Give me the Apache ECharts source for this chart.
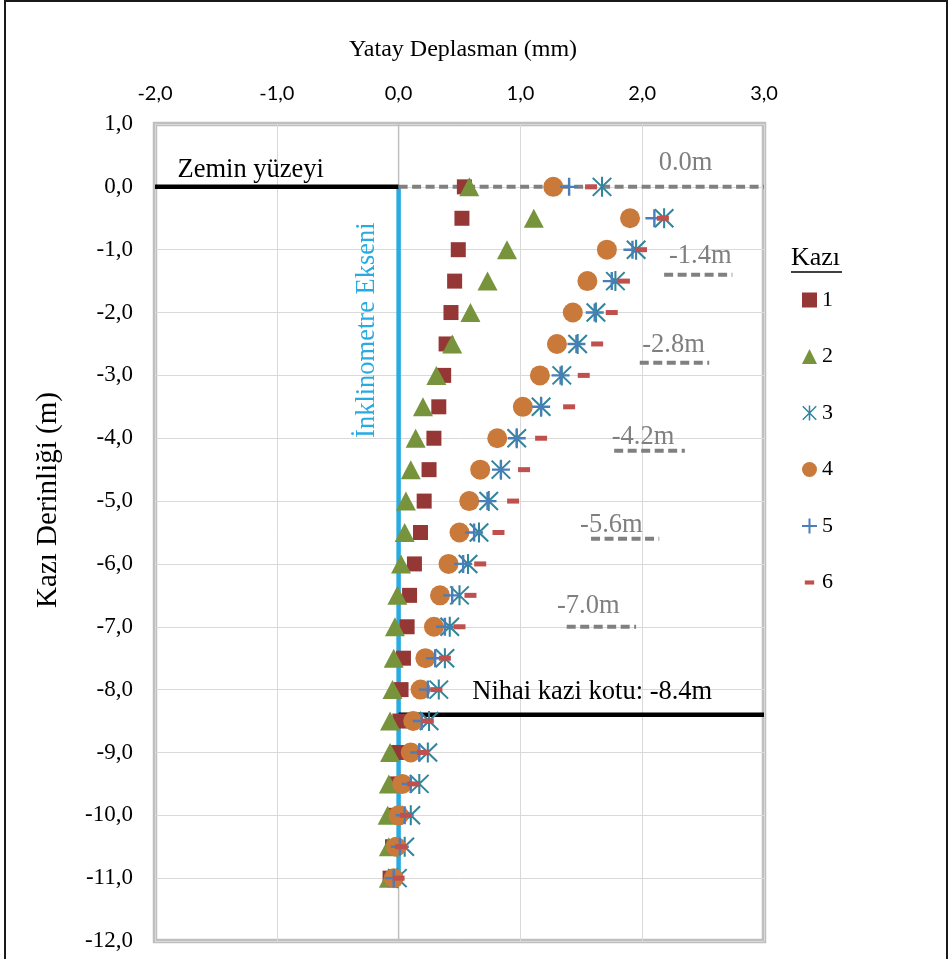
<!DOCTYPE html>
<html><head><meta charset="utf-8">
<script src="https://cdn.jsdelivr.net/npm/echarts@6/dist/echarts.min.js"></script>
<style>html,body{margin:0;padding:0;background:#fff}#c{width:951px;height:959px}</style>
</head><body><div id="c"></div>
<script>
// ---------- data ----------
const depths = [0,-0.5,-1,-1.5,-2,-2.5,-3,-3.5,-4,-4.5,-5,-5.5,-6,-6.5,-7,-7.5,-8,-8.5,-9,-9.5,-10,-10.5,-11];
const kazi1 = [0.54,0.52,0.49,0.46,0.43,0.39,0.37,0.33,0.29,0.25,0.21,0.18,0.13,0.09,0.07,0.04,0.02,0.01,0.00,-0.01,-0.03,-0.05,-0.07];
const kazi2 = [0.58,1.11,0.89,0.73,0.59,0.44,0.31,0.20,0.14,0.10,0.06,0.05,0.02,-0.01,-0.03,-0.04,-0.05,-0.07,-0.07,-0.08,-0.09,-0.08,-0.08];
const kazi3 = [1.67,2.18,1.95,1.78,1.62,1.47,1.34,1.17,0.97,0.84,0.74,0.66,0.57,0.50,0.42,0.38,0.33,0.25,0.24,0.17,0.10,0.05,-0.01];
const kazi4 = [1.27,1.90,1.71,1.55,1.43,1.30,1.16,1.02,0.81,0.67,0.58,0.50,0.41,0.34,0.29,0.22,0.18,0.12,0.10,0.03,0.00,-0.02,-0.04];
const kazi5 = [1.40,2.10,1.92,1.75,1.61,1.46,1.33,1.17,0.97,0.84,0.73,0.62,0.53,0.44,0.38,0.30,0.24,0.19,0.17,0.10,0.05,0.01,-0.04];
const kazi6 = [1.58,2.17,1.99,1.85,1.75,1.63,1.52,1.40,1.17,1.03,0.94,0.82,0.67,0.59,0.50,0.38,0.31,0.24,0.20,0.12,0.06,0.02,0.00];
const seriesNames = ['1','2','3','4','5','6'];
const xTickLabels = ['-2,0','-1,0','0,0','1,0','2,0','3,0'];
const yTickLabels = ['1,0','0,0','-1,0','-2,0','-3,0','-4,0','-5,0','-6,0','-7,0','-8,0','-9,0','-10,0','-11,0','-12,0'];
const stageDepths = [-1.4,-2.8,-4.2,-5.6,-7.0];
const stageStartX = [2.18,1.98,1.77,1.58,1.38];
const stageEndX = [2.74,2.55,2.35,2.14,1.95];
const stageLabels = ['-1.4m','-2.8m','-4.2m','-5.6m','-7.0m'];
const finalDepth = -8.4;
const inclinometerBottom = -11;

// ---------- styles ----------
const serif = 'Liberation Serif';
const colors = ['#953735','#77933C','#31859C','#C9793A','#4A7EBB','#C0504D'];
const asterisk = 'path://M-1,-10 L1,-10 L1,10 L-1,10 Z M-8.293,-9.707 L9.707,8.293 L8.293,9.707 L-9.707,-8.293 Z M-8.293,9.707 L-9.707,8.293 L8.293,-9.707 L9.707,-8.293 Z';
const plus = 'path://M-1.2,-9 L1.2,-9 L1.2,9 L-1.2,9 Z M-9,-1.2 L9,-1.2 L9,1.2 L-9,1.2 Z';
const dashIcon = 'path://M-8,-8 M-5,-2.2 L5,-2.2 L5,2.2 L-5,2.2 Z M8,8';
const symbols = ['rect','triangle',asterisk,'circle',plus,'rect'];
const sizes = [15,[20,19],20,20,18,[12,5]];
const kazi = [kazi1,kazi2,kazi3,kazi4,kazi5,kazi6];
const dashStyle = {color:'#808080', width:4, type:[9,4.5], cap:'butt'};

const chart = echarts.init(document.getElementById('c'), null, {renderer:'canvas'});

function lineSeries(name, pts, style, z) {
  return {type:'line', name, data:pts, symbol:'none', silent:true, z:z||1,
          lineStyle:style, animation:false, legendHoverLink:false};
}

const series = [];
series.push(lineSeries('axis0', [[0,1],[0,-12]], {color:'#BFBFBF', width:1.5}, 1));
series.push(lineSeries('inklinometre', [[0,0],[0,inclinometerBottom]], {color:'#29ABE2', width:4.5}, 1));
series.push(lineSeries('zemin', [[-2,0],[0,0]], {color:'#000', width:4.5}, 1));
series.push(lineSeries('zemin-dash', [[0,0],[3,0]], dashStyle, 1));
series.push(lineSeries('nihai', [[0,finalDepth],[3,finalDepth]], {color:'#000', width:4.5}, 1));
stageDepths.forEach((d,i)=>{
  series.push(lineSeries('stage'+i, [[stageStartX[i],d],[stageEndX[i],d]], dashStyle, 1));
});
kazi.forEach((vals,i)=>{
  series.push({type:'scatter', name:seriesNames[i], data:vals.map((v,j)=>[v,depths[j]]),
    symbol:symbols[i], symbolSize:sizes[i], itemStyle:{color:colors[i], opacity:1}, z:3+i, animation:false});
});

const option = {
  backgroundColor:'#fff',
  animation:false,
  grid:{left:155, right:187, top:124, bottom:18, show:true, borderColor:'#BFBFBF', borderWidth:4.5, containLabel:false},
  xAxis:{type:'value', position:'top', min:-2, max:3, interval:1,
    axisLine:{show:false}, axisTick:{show:false},
    axisLabel:{formatter:v=>xTickLabels[Math.round(v+2)], fontFamily:'Lato', fontSize:20, color:'#000', margin:20},
    splitLine:{lineStyle:{color:'#D9D9D9', width:1}},
    name:'Yatay Deplasman (mm)', nameLocation:'middle', nameGap:62,
    nameTextStyle:{fontFamily:serif, fontSize:24, color:'#000', padding:[0,0,0,7]}},
  yAxis:{type:'value', min:-12, max:1, interval:1,
    axisLine:{show:false}, axisTick:{show:false},
    axisLabel:{formatter:v=>yTickLabels[Math.round(1-v)], fontFamily:serif, fontSize:23, color:'#000', margin:22},
    splitLine:{lineStyle:{color:'#D9D9D9', width:1}}},
  legend:{orient:'vertical', left:797, top:284, itemWidth:15, itemHeight:15, itemGap:34.5,
    textStyle:{fontFamily:serif, fontSize:22, color:'#000'},
    data:seriesNames.map((n,i)=> i===5 ? {name:n, icon:dashIcon} : n)},
  series
};
chart.setOption(option);

// ---------- annotations (positioned in data space) ----------
const px = p => chart.convertToPixel({gridIndex:0}, p);
const annoFont = '26.5px "Liberation Serif"';
const texts = [
  {text:'Zemin yüzeyi', at:[-1.815,0.27], fill:'#000'},
  {text:'0.0m', at:[2.135,0.38], fill:'#7F7F7F'},
  {text:'Nihai kazi kotu: -8.4m', at:[0.605,-8.04], fill:'#000'}
];
const stageLabelX = [2.22,2.00,1.75,1.49,1.30];
const stageLabelY = [-1.10,-2.52,-3.98,-5.38,-6.67];
stageLabels.forEach((t,i)=>texts.push({text:t, at:[stageLabelX[i],stageLabelY[i]], fill:'#7F7F7F'}));

const graphic = texts.map(t=>{
  const p = px(t.at);
  return {type:'text', x:p[0], y:p[1], silent:true, z:20,
    style:{text:t.text, font:annoFont, fill:t.fill, align:'left', verticalAlign:'middle'}};
});
const ink = px([-0.263,-2.28]);
graphic.push({type:'text', x:ink[0], y:ink[1], rotation:Math.PI/2, silent:true, z:20,
  style:{text:'İnklinometre Ekseni', font:annoFont, fill:'#29ABE2', align:'center', verticalAlign:'middle'}});
graphic.push({type:'text', x:48, y:500, rotation:Math.PI/2, silent:true,
  style:{text:'Kazı Derinliği (m)', font:'29px "Liberation Serif"', fill:'#000', align:'center', verticalAlign:'middle'}});
graphic.push({type:'text', x:791, y:258, silent:true,
  style:{text:'Kazı', font:'26px "Liberation Serif"', fill:'#000', align:'left', verticalAlign:'middle'}});
graphic.push({type:'line', silent:true, shape:{x1:791, y1:272, x2:842, y2:272}, style:{stroke:'#000', lineWidth:1.5}});
graphic.push({type:'rect', silent:true, z:-1, shape:{x:5, y:1, width:942, height:975}, style:{fill:'none', stroke:'#1a1a1a', lineWidth:2}});
chart.setOption({graphic});
</script>
</body></html>
